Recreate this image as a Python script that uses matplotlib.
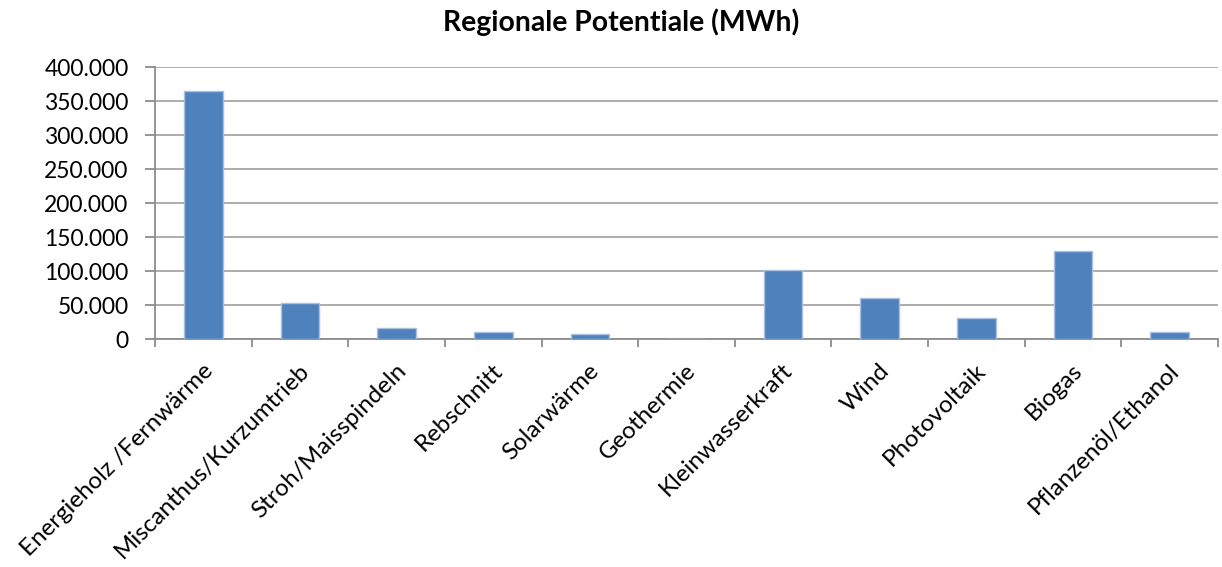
import matplotlib
matplotlib.use("Agg")
import matplotlib.pyplot as plt
import matplotlib.transforms as mtransforms
from matplotlib.ticker import FuncFormatter, FixedLocator

categories = ["Energieholz /Fernwärme", "Miscanthus/Kurzumtrieb", "Stroh/Maisspindeln",
              "Rebschnitt", "Solarwärme", "Geothermie", "Kleinwasserkraft", "Wind",
              "Photovoltaik", "Biogas", "Pflanzenöl/Ethanol"]
values = [364000, 53000, 16600, 10000, 7000, 0, 102000, 60000, 31500, 129500, 10000]
yticks = [0, 50000, 100000, 150000, 200000, 250000, 300000, 350000, 400000]
title = "Regionale Potentiale (MWh)"

plt.rcParams['font.family'] = ['Lato', 'DejaVu Sans']

fig = plt.figure(figsize=(12.22, 5.67), dpi=100)
ax = fig.add_axes([155/1222, 1 - 339/567, (1218-155)/1222, (339-67)/567])

x = list(range(len(categories)))
ax.bar(x, values, width=0.4, color='#4F81BD', edgecolor='#a9c1df', linewidth=1, zorder=3)

ax.set_xlim(-0.5, len(categories) - 0.5)
ax.set_ylim(0, 400000)
ax.set_yticks(yticks)
ax.yaxis.set_major_formatter(FuncFormatter(lambda v, p: f"{int(v):,}".replace(",", ".")))
ax.grid(axis='y', color='#a6a6a6', linewidth=1.3, zorder=0)

ax.set_xticks(x)
ax.set_xticklabels(categories, rotation=45, ha='right', va='center', rotation_mode='anchor')
ax.tick_params(axis='x', length=0, pad=21, labelsize=17.4)
offset = mtransforms.ScaledTranslation(6/100, 1/100, fig.dpi_scale_trans)
for lab in ax.get_xticklabels():
    lab.set_transform(lab.get_transform() + offset)
ax.xaxis.set_minor_locator(FixedLocator([i - 0.5 for i in range(len(categories) + 1)]))
ax.tick_params(axis='x', which='minor', length=6, width=1.3, color='#8c8c8c', direction='out')
ax.tick_params(axis='y', length=7.5, width=1.3, color='#8c8c8c', labelsize=16.5, pad=11.5)

for s in ['top', 'right']:
    ax.spines[s].set_visible(False)
for s in ['left', 'bottom']:
    ax.spines[s].set_color('#8c8c8c')
    ax.spines[s].set_linewidth(1.3)

fig.text(0.508, 1 - 22/567, title, ha='center', va='center', fontsize=20.4, fontweight='bold')

fig.savefig("out.png", dpi=100)
